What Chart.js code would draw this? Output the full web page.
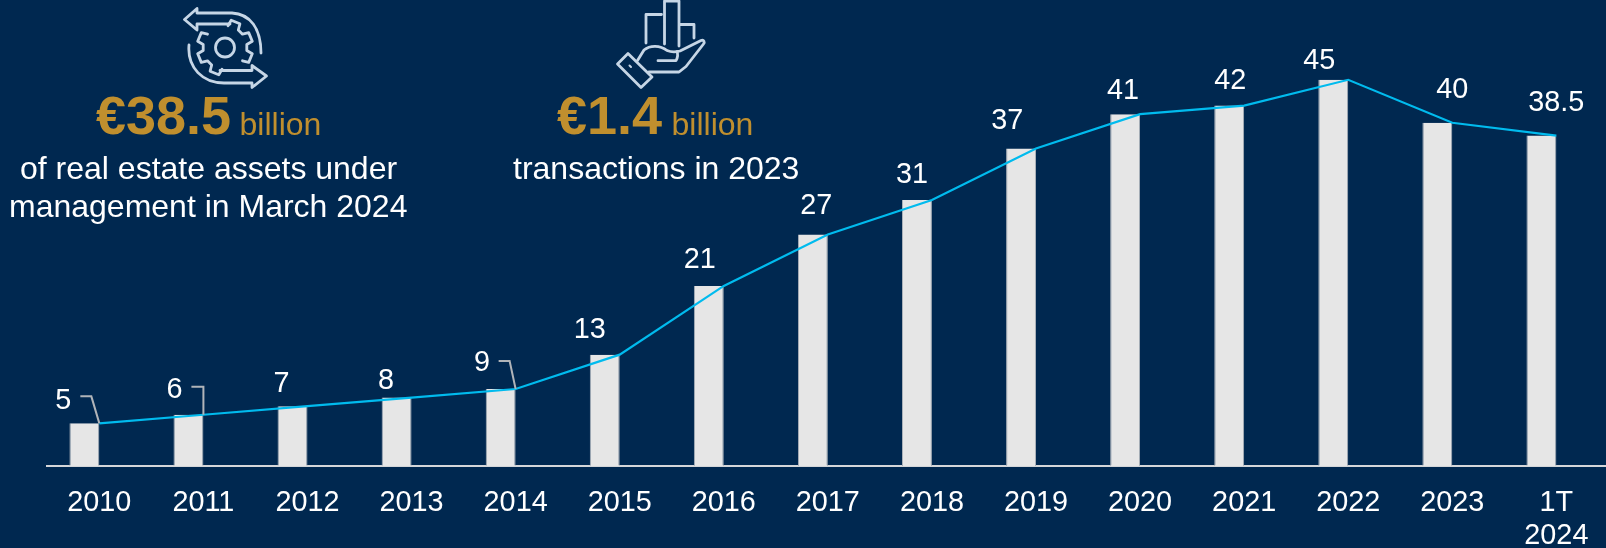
<!DOCTYPE html>
<html><head><meta charset="utf-8">
<script src="https://cdn.jsdelivr.net/npm/chart.js@4"></script>
<style>
html,body{margin:0;padding:0;background:#002850;overflow:hidden;width:1606px;height:548px}
#wrap{position:absolute;left:0;top:0;width:1606px;height:548px;overflow:hidden}
canvas{position:absolute;left:0;top:0}
.t{position:absolute;white-space:nowrap;font-family:"Liberation Sans",Arial,sans-serif;line-height:1;transform:translateY(-0.8465em)}
.w{color:#fff;font-size:32px}
.g{color:#c08f2e}
.b{font-weight:bold;font-size:54px}
.s{font-size:32px}
svg{position:absolute;left:0;top:0}
</style></head><body>
<div id="wrap">
<canvas id="c" width="1610" height="548"></canvas>
<svg width="1606" height="548" fill="none" stroke="#c6d6e6" stroke-width="2.800" stroke-linejoin="round" stroke-linecap="round">
<path d="M197 13V8.500L184.500 19.500L197 30V24H230M197 13H232C250 14 261 28 261 53"/>
<path d="M189 45C187 68 203 83 224 83H252V87.500L266.500 76L252 65.500V70.500H220"/>
<circle cx="225" cy="47.500" r="9.500"/>
<path id="gear1"/>
<path id="gear2"/>
<path d="M646 43V14.500H661.500M664.500 44V1H679V46M679 24.500H694V38"/>
<path d="M637.500 60.500L644 50C650 45 660 45 667 50.500C672 52.500 676 52 680 51L701 40.500C704 39.500 705 42 703.500 44L686 66.500L679 72H649"/>
<path d="M658 60.700H676C678 57 678 54 677 51.500"/>
<path d="M617.500 64L628 53.500L652 77L641 87.500Z"/>
<path d="M629.500 65.500L631 67" stroke-width="2"/>
</svg>
<div class="t g b" style="left:96px;top:134px">€38.5</div>
<div class="t g s" style="left:239.500px;top:135px">billion</div>
<div class="t w" style="left:20px;top:179px">of real estate assets under</div>
<div class="t w" style="left:9px;top:217px">management in March 2024</div>
<div class="t g b" style="left:557px;top:134px">€1.4</div>
<div class="t g s" style="left:671.500px;top:135px">billion</div>
<div class="t w" style="left:513px;top:179px">transactions in 2023</div>
</div>
<script>
const categories = ["2010","2011","2012","2013","2014","2015","2016","2017","2018","2019","2020","2021","2022","2023",["1T","2024"]];
const assetValues = [5,6,7,8,9,13,21,27,31,37,41,42,45,40,38.5];
const valueLabels = ["5","6","7","8","9","13","21","27","31","37","41","42","45","40","38.5"];
const spacerValues = categories.map(() => null);

// label placement relative to each point (layout only)
const labelDx = [-36,-29,-26,-25.500,-33.500,-30,-24,-11.500,-20,-28.700,-17,-14,-29,0,0];
const labelDy = [-14.500,-16.500,-14,-8.500,-18,-17,-17.500,-20,-17,-19.500,-15,-16.500,-11,-25,-25];
const leaders = {0:[[-19,-27],[-8,-27],[0,0]],1:[[-12,-28],[0,-28],[0,0]],4:[[-17,-28],[-6,-28],[0,0]]};

// gear outline (decoration)
(function(){
  const cx=225,cy=47.5,R=28,r=22;
  const draw=(id,centres)=>{
    let d="";
    centres.forEach((deg,i)=>{
      const a=deg*Math.PI/180,w=0.17;
      [[r,a-w*1.5],[R,a-w],[R,a+w],[r,a+w*1.5]].forEach((p,k)=>{
        d+=(i===0&&k===0?"M":"L")+(cx+p[0]*Math.cos(p[1])).toFixed(1)+" "+(cy+p[0]*Math.sin(p[1])).toFixed(1);
      });
    });
    document.getElementById(id).setAttribute("d",d);
  };
  draw("gear1",[-67.5,-22.5,22.5]);
  draw("gear2",[112.5,157.5,202.5]);
})();

const labelPlugin = {
  id:"labelPlugin",
  afterDatasetsDraw(chart){
    const ctx=chart.ctx,pts=chart.getDatasetMeta(0).data;
    ctx.save();
    ctx.strokeStyle="#b0b4b9";ctx.lineWidth=2;
    Object.keys(leaders).forEach(i=>{
      const p=pts[i];ctx.beginPath();
      leaders[i].forEach((o,k)=>{k?ctx.lineTo(p.x+o[0],p.y+o[1]):ctx.moveTo(p.x+o[0],p.y+o[1])});
      ctx.stroke();
    });
    ctx.fillStyle="#fff";ctx.font='28.800px "Liberation Sans", Arial, sans-serif';
    ctx.textAlign="center";ctx.textBaseline="alphabetic";
    pts.forEach((p,i)=>ctx.fillText(valueLabels[i],p.x+labelDx[i],p.y+labelDy[i]));
    ctx.restore();
  }
};

new Chart(document.getElementById("c"),{
  data:{labels:categories,datasets:[
    {type:"line",data:assetValues,borderColor:"#00bbee",borderWidth:2.200,pointRadius:0,tension:0,order:0},
    {type:"bar",data:assetValues,backgroundColor:"#e6e6e6",borderColor:"#aab1b9",borderWidth:{left:1,right:1,top:0,bottom:0},categoryPercentage:0.575,barPercentage:1,order:1},
    {type:"bar",data:spacerValues,backgroundColor:"transparent",categoryPercentage:0.575,barPercentage:1,order:2}
  ]},
  options:{
    responsive:false,animation:false,
    layout:{padding:{left:47.300,right:1.600,top:0,bottom:0}},
    plugins:{legend:{display:false},tooltip:{enabled:false}},
    scales:{
      x:{grid:{display:false},border:{display:true,color:"#d4d6d9",width:2},
        ticks:{color:"#fff",font:{family:'"Liberation Sans", Arial, sans-serif',size:28.8,lineHeight:1.16},padding:12,maxRotation:0,autoSkip:false},
        afterFit(s){s.height=81.7}},
      y:{display:false,min:0,max:54.29}
    }
  },
  plugins:[labelPlugin]
});
</script>
</body></html>
